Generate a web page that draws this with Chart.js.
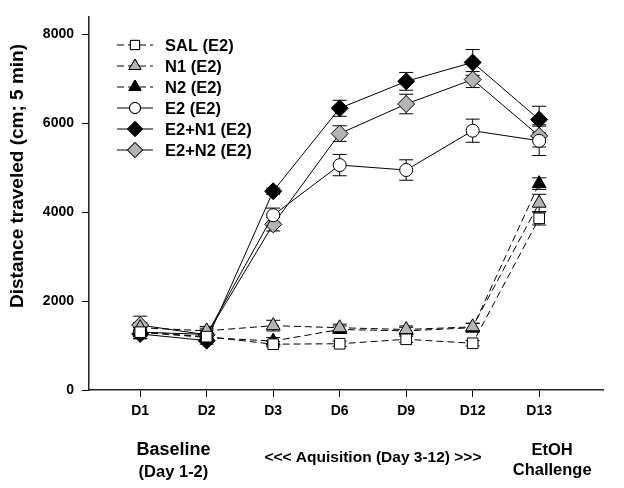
<!DOCTYPE html>
<html>
<head>
<meta charset="utf-8">
<script src="https://cdn.jsdelivr.net/npm/chart.js@4.4.1/dist/chart.umd.min.js"></script>
<style>
  html, body { margin: 0; padding: 0; background: #fff; }
  #wrap { width: 624px; height: 488px; position: relative; }
</style>
</head>
<body>
<div id="wrap"><canvas id="chart" width="624" height="488"></canvas></div>
<script>
// Days on the x axis
const days = ['D1', 'D2', 'D3', 'D6', 'D9', 'D12', 'D13'];
const yTicks = [0, 2000, 4000, 6000, 8000];

// Mean distance traveled per group
const sal  = [1300, 1200, 1030, 1040, 1140, 1050, 3860];
const n1   = [1400, 1330, 1447, 1400, 1360, 1420, 4200];
const n2   = [1300, 1180, 1100, 1360, 1330, 1400, 4640];
const e2   = [1300, 1250, 3930, 5057, 4946, 5830, 5603];
const e2n1 = [1260, 1110, 4470, 6334, 6940, 7365, 6080];
const e2n2 = [1460, 1240, 3726, 5765, 6430, 6980, 5713];

// SEM per group
const salErr  = [100, 80, 60, 60, 70, 60, 150];
const n1Err   = [120, 100, 120, 80, 80, 80, 200];
const n2Err   = [100, 80, 80, 80, 80, 100, 130];
const e2Err   = [150, 100, 160, 240, 230, 260, 330];
const e2n1Err = [100, 80, 70, 180, 200, 290, 300];
const e2n2Err = [200, 150, 150, 175, 220, 180, 250];

const FONT = '"Liberation Sans", Arial, sans-serif';

const groups = [
    { label: 'SAL (E2)',    data: sal,  err: salErr,  style: 'rect',     r: 7.5, fill: '#fff',    dash: [7, 4] },
    { label: 'N1 (E2)',     data: n1,   err: n1Err,   style: 'triangle', r: 8,   fill: '#b4b4b4', dash: [7, 4] },
    { label: 'N2 (E2)',     data: n2,   err: n2Err,   style: 'triangle', r: 8,   fill: '#000',    dash: [7, 4] },
    { label: 'E2 (E2)',     data: e2,   err: e2Err,   style: 'circle',   r: 6.5, fill: '#fff',    dash: [] },
    { label: 'E2+N1 (E2)',  data: e2n1, err: e2n1Err, style: 'rectRot',  r: 8.5, fill: '#000',    dash: [] },
    { label: 'E2+N2 (E2)',  data: e2n2, err: e2n2Err, style: 'rectRot',  r: 8.5, fill: '#b4b4b4', dash: [] }
];

const datasets = groups.map(g => ({
    label: g.label,
    data: g.data.map((v, i) => ({ x: i + 1, y: v })),
    err: g.err,
    borderColor: '#000',
    borderWidth: 1,
    borderDash: g.dash,
    pointStyle: g.style,
    pointRadius: g.r,
    pointBackgroundColor: g.fill,
    pointBorderColor: '#000',
    pointBorderWidth: 1,
    tension: 0,
    fill: false
}));

// error bars, drawn under the markers
const errorBars = {
    id: 'errorBars',
    beforeDatasetsDraw(chart) {
        const ctx = chart.ctx;
        const ys = chart.scales.y;
        ctx.save();
        ctx.strokeStyle = '#000';
        ctx.lineWidth = 1;
        chart.data.datasets.forEach((ds, di) => {
            const meta = chart.getDatasetMeta(di);
            meta.data.forEach((pt, i) => {
                const v = ds.data[i].y;
                const e = ds.err[i];
                const top = ys.getPixelForValue(v + e);
                const bot = ys.getPixelForValue(v - e);
                ctx.beginPath();
                ctx.moveTo(pt.x, top); ctx.lineTo(pt.x, bot);
                ctx.moveTo(pt.x - 7, top); ctx.lineTo(pt.x + 7, top);
                ctx.moveTo(pt.x - 7, bot); ctx.lineTo(pt.x + 7, bot);
                ctx.stroke();
            });
        });
        ctx.restore();
    }
};

// legend, axis title and phase labels
const extras = {
    id: 'extras',
    afterDraw(chart) {
        const ctx = chart.ctx;
        const xs = chart.scales.x;
        ctx.save();
        ctx.fillStyle = '#000';

        // legend
        groups.forEach((g, i) => {
            const y = 45 + i * 21;
            ctx.strokeStyle = '#000';
            ctx.lineWidth = 1;
            ctx.setLineDash(g.dash.length ? [7, 4] : []);
            ctx.beginPath();
            ctx.moveTo(117, y); ctx.lineTo(153, y);
            ctx.stroke();
            ctx.setLineDash([]);
            ctx.fillStyle = g.fill;
            Chart.helpers.drawPoint(ctx, { pointStyle: g.style, radius: g.r - 1, borderWidth: 1 }, 135, y);
            ctx.fill();
            ctx.stroke();
            ctx.fillStyle = '#000';
            ctx.font = 'bold 16.5px ' + FONT;
            ctx.textAlign = 'left';
            ctx.textBaseline = 'middle';
            ctx.fillText(g.label, 165, y + 1);
        });

        // y title
        ctx.save();
        ctx.translate(18, 176);
        ctx.rotate(-Math.PI / 2);
        ctx.font = 'bold 19px ' + FONT;
        ctx.textAlign = 'center';
        ctx.textBaseline = 'middle';
        ctx.fillText('Distance traveled (cm; 5 min)', 0, 0);
        ctx.restore();

        // phase labels
        ctx.textAlign = 'center';
        ctx.textBaseline = 'middle';
        const bx = (xs.getPixelForValue(1) + xs.getPixelForValue(2)) / 2;
        const ax = (xs.getPixelForValue(3) + xs.getPixelForValue(6)) / 2;
        const cx = xs.getPixelForValue(7) + 13;
        ctx.font = 'bold 18px ' + FONT;
        ctx.fillText('Baseline', bx, 450);
        ctx.font = 'bold 16.5px ' + FONT;
        ctx.fillText('(Day 1-2)', bx, 472);
        ctx.fillText('EtOH', cx, 450);
        ctx.fillText('Challenge', cx, 470);
        ctx.font = 'bold 15.5px ' + FONT;
        ctx.fillText('<<< Aquisition (Day 3-12) >>>', ax, 458);
        ctx.restore();
    }
};

new Chart(document.getElementById('chart'), {
    type: 'line',
    data: { datasets: datasets },
    options: {
        responsive: false,
        animation: false,
        layout: { padding: { left: 0, right: 21, top: 7, bottom: 0 } },
        plugins: { legend: { display: false }, tooltip: { enabled: false } },
        scales: {
            x: {
                type: 'linear',
                min: 0.23,
                max: 7.96,
                afterBuildTicks: s => { s.ticks = days.map((d, i) => ({ value: i + 1 })); },
                afterFit: s => { s.height = 98; },
                ticks: {
                    callback: v => days[v - 1],
                    color: '#000',
                    font: { family: FONT, size: 14, weight: 'bold' },
                    padding: 6,
                    maxRotation: 0,
                    autoSkip: false
                },
                grid: { drawOnChartArea: false, drawTicks: true, tickLength: 7, color: '#000' },
                border: { color: '#222', width: 1.5 }
            },
            y: {
                min: 0,
                max: 8400,
                afterBuildTicks: s => { s.ticks = yTicks.map(v => ({ value: v })); },
                afterFit: s => { s.width = 89; },
                ticks: {
                    callback: v => String(v),
                    color: '#000',
                    font: { family: FONT, size: 14, weight: 'bold' },
                    padding: 8
                },
                grid: { drawOnChartArea: false, drawTicks: true, tickLength: 7, color: '#000' },
                border: { color: '#222', width: 1.5 }
            }
        }
    },
    plugins: [errorBars, extras]
});
</script>
</body>
</html>
